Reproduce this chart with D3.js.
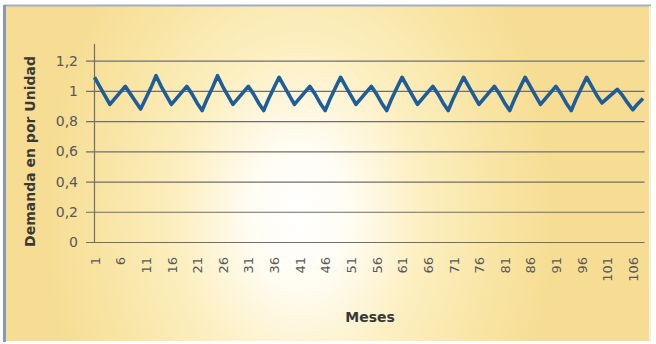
<!DOCTYPE html>
<html>
<head>
<meta charset="utf-8">
<script src="https://cdn.jsdelivr.net/npm/d3@7"></script>
<style>
  html, body { margin: 0; padding: 0; background: #ffffff; }
  svg { display: block; }
</style>
</head>
<body>
<svg id="chart" width="656" height="344"></svg>
<script>
// Demanda mensual en por unidad, meses 1 a 108
const months = d3.range(1, 109);
const demand = [
  1.09, 1.03, 0.97, 0.91, 0.95, 0.99, 1.03, 0.98, 0.93, 0.88, 0.95, 1.02,
  1.10, 1.03, 0.97, 0.91, 0.95, 0.99, 1.03, 0.98, 0.92, 0.87, 0.95, 1.02,
  1.10, 1.03, 0.97, 0.91, 0.95, 0.99, 1.03, 0.98, 0.92, 0.87, 0.95, 1.02,
  1.09, 1.03, 0.97, 0.91, 0.95, 0.99, 1.03, 0.98, 0.92, 0.87, 0.95, 1.02,
  1.09, 1.03, 0.97, 0.91, 0.95, 0.99, 1.03, 0.98, 0.92, 0.87, 0.95, 1.02,
  1.09, 1.03, 0.97, 0.91, 0.95, 0.99, 1.03, 0.98, 0.92, 0.87, 0.95, 1.02,
  1.09, 1.03, 0.97, 0.91, 0.95, 0.99, 1.03, 0.98, 0.92, 0.87, 0.95, 1.02,
  1.09, 1.03, 0.97, 0.91, 0.95, 0.99, 1.03, 0.98, 0.92, 0.87, 0.95, 1.02,
  1.09, 1.03, 0.97, 0.92, 0.95, 0.98, 1.01, 0.97, 0.92, 0.875, 0.915, 0.95
];
const yTicks = [0, 0.2, 0.4, 0.6, 0.8, 1, 1.2];
const xTickLabels = d3.range(1, 107, 5);
const yTitle = "Demanda en por Unidad";
const xTitle = "Meses";

const svg = d3.select("#chart");
const plot = { left: 94.5, right: 643, top: 44, bottom: 242 };

// Panel background: pale yellow with a soft white glow
const defs = svg.append("defs");
const grad = defs.append("radialGradient")
  .attr("id", "bgGlow")
  .attr("gradientUnits", "userSpaceOnUse")
  .attr("cx", 300).attr("cy", 215).attr("r", 320)
  .attr("gradientTransform", "translate(300,215) scale(0.8,1.1) translate(-300,-215)");
[[0, "#ffffff"], [0.2, "#fffcf2"], [0.48, "#fcefc0"], [0.78, "#f8e4a3"], [1, "#f6dd93"]]
  .forEach(([o, c]) => grad.append("stop").attr("offset", o).attr("stop-color", c));

svg.append("rect")
  .attr("x", 4).attr("y", 5).attr("width", 646).attr("height", 336)
  .attr("fill", "url(#bgGlow)");
// Frame edges
svg.append("line").attr("x1", 4).attr("x2", 651).attr("y1", 5.5).attr("y2", 5.5)
  .attr("stroke", "#a3abc9").attr("stroke-width", 2);
svg.append("line").attr("x1", 4.5).attr("x2", 4.5).attr("y1", 5).attr("y2", 342)
  .attr("stroke", "#8797bd").attr("stroke-width", 3);
svg.append("line").attr("x1", 650).attr("x2", 650).attr("y1", 6).attr("y2", 342)
  .attr("stroke", "#f4f0de").attr("stroke-width", 2);

// Scales
const x = d3.scaleLinear().domain([1, 108]).range([plot.left, plot.right]);
const y = d3.scaleLinear().domain([0, 1.31]).range([plot.bottom, plot.top]);

const gridColor = "#6e6e6e";

// Horizontal gridlines with outer tick marks
const yAxis = d3.axisLeft(y)
  .tickValues(yTicks)
  .tickSize(plot.right - plot.left + 1 + 9)
  .tickFormat(d => d3.format(",")(d).replace(".", ","))
  .tickPadding(8);
const gy = svg.append("g")
  .attr("transform", `translate(${plot.right + 1.5},0)`)
  .call(yAxis);
gy.select(".domain").remove();
gy.selectAll(".tick line").attr("stroke", gridColor).attr("stroke-width", 1.2);
gy.selectAll(".tick text")
  .attr("font-family", "DejaVu Sans, Verdana, sans-serif")
  .attr("font-size", 14)
  .attr("fill", "#585858");

// Vertical axis line
svg.append("line")
  .attr("x1", plot.left).attr("x2", plot.left)
  .attr("y1", plot.top).attr("y2", plot.bottom)
  .attr("stroke", gridColor).attr("stroke-width", 1.2);

// Month labels
const xAxis = d3.axisBottom(x).tickValues(xTickLabels).tickSize(0).tickFormat(d3.format("d"));
const gx = svg.append("g")
  .attr("transform", `translate(0,${plot.bottom})`)
  .call(xAxis);
gx.select(".domain").remove();
gx.selectAll(".tick text")
  .attr("font-family", "DejaVu Sans, Verdana, sans-serif")
  .attr("font-size", 13)
  .attr("fill", "#585858")
  .attr("text-anchor", "end")
  .attr("transform", "rotate(-90)")
  .attr("x", -15)
  .attr("y", 0)
  .attr("dy", "0.36em");

// Demand series
const line = d3.line().x((d, i) => x(months[i])).y(d => y(d));
svg.append("path")
  .datum(demand)
  .attr("fill", "none")
  .attr("stroke", "#1f5d98")
  .attr("stroke-width", 3.6)
  .attr("stroke-linejoin", "round")
  .attr("d", line);

// Axis titles
svg.append("text")
  .attr("transform", `translate(35,${(55 + 248) / 2}) rotate(-90)`)
  .attr("text-anchor", "middle")
  .attr("font-family", "DejaVu Sans, Verdana, sans-serif")
  .attr("font-weight", "bold")
  .attr("font-size", 14)
  .attr("fill", "#383838")
  .text(yTitle);

svg.append("text")
  .attr("x", 370).attr("y", 322)
  .attr("text-anchor", "middle")
  .attr("font-family", "DejaVu Sans, Verdana, sans-serif")
  .attr("font-weight", "bold")
  .attr("font-size", 14)
  .attr("fill", "#383838")
  .text(xTitle);
</script>
</body>
</html>
